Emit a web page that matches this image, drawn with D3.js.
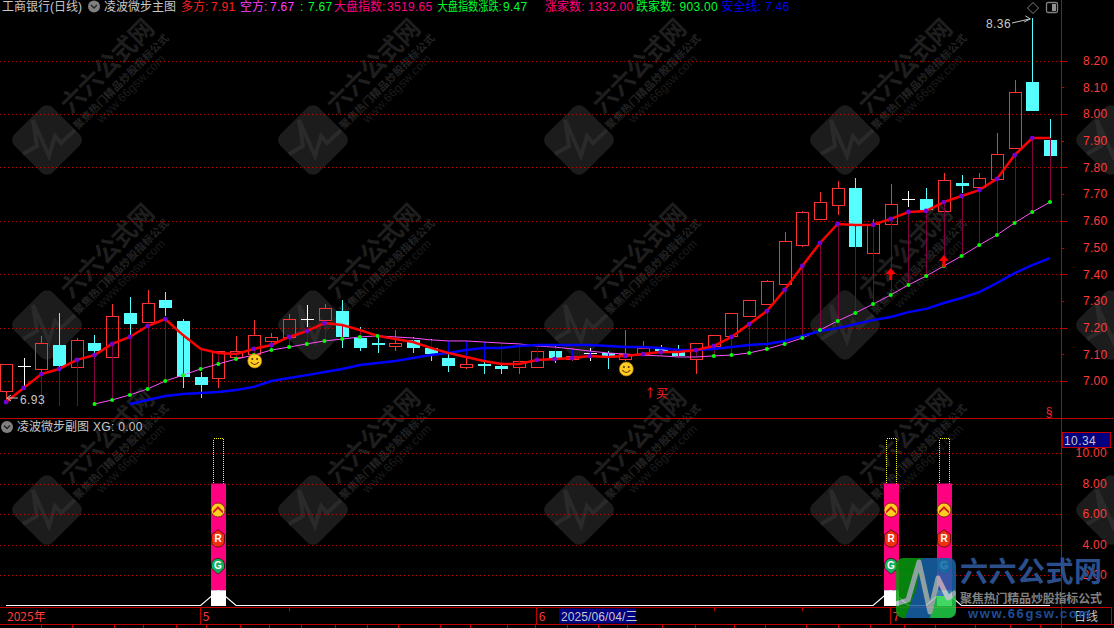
<!DOCTYPE html>
<html><head><meta charset="utf-8">
<style>
html,body{margin:0;padding:0;background:#000;overflow:hidden}
svg{display:block}
text{font-family:"Liberation Sans","Noto Sans CJK SC",sans-serif;font-size:12px}
.cjk{font-family:"Noto Sans CJK SC",sans-serif}
</style>
<script src="https://cdn.jsdelivr.net/npm/d3@7/dist/d3.min.js"></script>
</head><body>
<svg id="c" width="1114" height="628"></svg>
<script>
const opens=[6.963,7.056,7.045,7.135,7.052,7.142,7.090,7.255,7.221,7.303,
7.225,7.015,7.011,7.090,7.101,7.150,7.165,7.232,7.228,7.262,
7.161,7.142,7.131,7.154,7.124,7.086,7.052,7.064,7.056,7.052,
7.052,7.112,7.082,7.105,7.105,7.082,7.101,7.124,7.112,7.082,
7.131,7.169,7.243,7.288,7.363,7.509,7.607,7.659,7.723,7.479,
7.588,7.682,7.682,7.637,7.742,7.727,7.757,7.873,8.120,7.903];
const closes=[7.064,7.056,7.142,7.056,7.154,7.112,7.243,7.213,7.292,7.273,
7.015,6.985,7.112,7.112,7.172,7.165,7.232,7.232,7.273,7.165,
7.124,7.135,7.142,7.124,7.101,7.056,7.064,7.056,7.045,7.075,
7.112,7.086,7.094,7.105,7.094,7.101,7.124,7.112,7.094,7.142,
7.172,7.255,7.303,7.375,7.524,7.633,7.670,7.723,7.502,7.588,
7.663,7.682,7.640,7.753,7.730,7.760,7.850,8.082,8.011,7.843];
const highs=[7.064,7.086,7.169,7.255,7.161,7.172,7.288,7.315,7.341,7.333,
7.232,7.034,7.112,7.169,7.228,7.180,7.251,7.285,7.288,7.303,
7.202,7.169,7.191,7.165,7.157,7.150,7.150,7.146,7.142,7.139,
7.135,7.135,7.124,7.124,7.112,7.191,7.150,7.135,7.135,7.142,
7.172,7.255,7.303,7.378,7.558,7.637,7.708,7.749,7.760,7.607,
7.738,7.712,7.723,7.779,7.771,7.779,7.929,8.127,8.36,7.981];
const lows=[6.93,6.974,7.022,7.049,7.045,7.097,7.090,7.172,7.221,7.243,
6.974,6.936,6.974,7.090,7.101,7.135,7.165,7.202,7.228,7.124,
7.112,7.105,7.112,7.105,7.075,7.034,7.045,7.026,7.026,7.026,
7.049,7.067,7.075,7.075,7.045,7.075,7.094,7.097,7.094,7.026,
7.120,7.169,7.243,7.288,7.363,7.502,7.607,7.622,7.502,7.479,
7.588,7.652,7.640,7.637,7.704,7.727,7.757,7.873,8.011,7.843];
const duoFang=[6.921,6.974,7.026,7.045,7.079,7.097,7.139,7.165,7.206,7.232,
7.172,7.120,7.105,7.101,7.120,7.135,7.165,7.187,7.217,7.210,
7.191,7.169,7.157,7.146,7.124,7.105,7.090,7.075,7.064,7.064,
7.079,7.082,7.086,7.094,7.090,7.094,7.101,7.109,7.109,7.116,
7.131,7.165,7.213,7.262,7.341,7.431,7.517,7.588,7.584,7.585,
7.607,7.633,7.637,7.670,7.693,7.715,7.757,7.846,7.91,7.91];
const kongFang=[null,null,null,null,null,6.914,6.929,6.948,6.970,7.000,
7.022,7.045,7.064,7.082,7.097,7.116,7.127,7.139,7.150,7.157,
7.165,7.169,7.165,7.161,7.154,7.150,7.150,7.146,7.142,7.139,
7.131,7.127,7.120,7.112,7.105,7.101,7.097,7.094,7.090,7.090,
7.094,7.097,7.105,7.120,7.139,7.161,7.191,7.225,7.255,7.288,
7.322,7.360,7.393,7.431,7.468,7.509,7.547,7.592,7.633,7.67];
const anQuan=[null,null,null,null,null,null,null,6.914,6.929,6.944,
6.951,6.955,6.959,6.966,6.978,7.000,7.011,7.022,7.034,7.045,
7.060,7.067,7.075,7.086,7.097,7.105,7.116,7.124,7.124,7.131,
7.135,7.135,7.135,7.135,7.131,7.127,7.127,7.124,7.116,7.116,
7.120,7.127,7.135,7.139,7.150,7.169,7.187,7.198,7.213,7.228,
7.240,7.258,7.270,7.292,7.311,7.333,7.367,7.404,7.434,7.46];
const stickFloor=6.907;
const priceTicks=[7.0,7.1,7.2,7.3,7.4,7.5,7.6,7.7,7.8,7.9,8.0,8.1,8.2];
const priceGrid=[7.0,7.2,7.4,7.6,7.8,8.0,8.2];
const xgBarIdx=[12,50,53];
const xgLineVals=d3.range(60).map(i=>xgBarIdx.includes(i)?1:0);
const subTicks=[2,4,6,8,10];
const barWhiteTop=1, barPinkTop=8, barDotTop=11;
const iconLevels=[6.26,4.45,2.6];
const arrowIdx=[50,53], arrowVals=[7.423,7.472];
const smileIdx=[14,35], smileVals=[7.075,7.045];
const monthLabels=["2025年","5","6","7"], monthIdx=[0,11,30,50];
const minorDateIdx=[16,40,45];
const bottomTabTicks=[41,72,114,143,176,206,240,269,301,335,367,398,440,470,507,535,567,598,627,662,695,734,765,806,838,870,904,935,975,1010,1040];
const headerItems=[
 ["多方:",181,"7.91",211,"#ff2020",0],
 ["空方:",240,"7.67",270,"#ff40ff",0],
 [":",300,"7.67",308,"#00ff30",0],
 ["大盘指数:",334,"3519.65",387,"#ff0080",0],
 ["大盘指数涨跌:",437.5,"9.47",503,"#00ff30",64],
 ["涨家数:",545,"1332.00",588,"#ff0080",0],
 ["跌家数:",636,"903.00",679.5,"#00ff30",0],
 ["安全线:",721.5,"7.46",765,"#0000ff",0]];
const wmX=[47,313,579,845,1111], wmY=[140,325,510];

const W=1114,H=628,frame="#c00000";
const svg=d3.select("#c");
svg.append("rect").attr("width",W).attr("height",H).attr("fill","#000");
const x=d3.scalePoint().domain(d3.range(60)).range([6,1050]);
const y=d3.scaleLinear().domain([7,8]).range([381,114]);
const y2=d3.scaleLinear().domain([0,10]).range([605.5,453]);

// watermarks
const wm=svg.append("g");
d3.cross(wmX,wmY).forEach(([cx,cy])=>{
  const g=wm.append("g").attr("transform",`translate(${cx},${cy})`);
  g.append("rect").attr("x",-27).attr("y",-27).attr("width",54).attr("height",54).attr("rx",8)
   .attr("transform","rotate(45)").attr("fill","#1c1c1c");
  g.append("path").attr("d","M-24,14L-10,6L-14,-20L2,16L8,-4L14,3L28,-10").attr("fill","none").attr("stroke","#2a2a2a").attr("stroke-width",4);
  if(cx+35>W) return;
  const t=g.append("g").attr("transform","rotate(-45)");
  t.append("text").attr("class","cjk").attr("x",35).attr("y",-1).attr("textLength",120).attr("lengthAdjust","spacingAndGlyphs")
   .style("font-size","25px").style("font-weight",700).attr("fill","#1e1e1e").text("六六公式网");
  t.append("text").attr("class","cjk").attr("x",29).attr("y",15).attr("textLength",129)
   .style("font-size","10.5px").style("font-weight",700).attr("fill","#232323").text("聚焦热门精品炒股指标公式");
  t.append("text").attr("x",50).attr("y",27).attr("textLength",91).attr("fill","#1c1c1c").text("www.66gsw.com");
});

// grid
const grid=svg.append("g").attr("stroke","#c80000").attr("stroke-dasharray","1 3").attr("shape-rendering","crispEdges");
grid.selectAll(".a").data(priceGrid).join("line").attr("class","a").attr("x1",0).attr("x2",1061)
 .attr("y1",d=>Math.round(y(d))+.5).attr("y2",d=>Math.round(y(d))+.5);
grid.selectAll(".b").data(subTicks).join("line").attr("class","b").attr("x1",0).attr("x2",1061)
 .attr("y1",d=>Math.round(y2(d))+.5).attr("y2",d=>Math.round(y2(d))+.5);

// candles
const idx=d3.range(60);
const RED="#ff3232",CY="#55ffff";
const cg=svg.append("g").attr("shape-rendering","crispEdges");
idx.forEach(i=>{
  const o=opens[i],c=closes[i],cx=Math.round(x(i))+.5;
  const col=c>o?RED:c<o?CY:"#ffffff";
  const top=Math.max(o,c),bot=Math.min(o,c);
  cg.append("line").attr("x1",cx).attr("x2",cx).attr("y1",y(highs[i])).attr("y2",y(top)).attr("stroke",col);
  cg.append("line").attr("x1",cx).attr("x2",cx).attr("y1",y(bot)).attr("y2",y(lows[i])).attr("stroke",col);
  if(c>o) cg.append("rect").attr("x",cx-6).attr("width",12).attr("y",Math.round(y(top))+.5).attr("height",Math.round(y(bot)-y(top))).attr("fill","none").attr("stroke",col);
  else if(c<o) cg.append("rect").attr("x",cx-6.5).attr("width",13).attr("y",y(top)).attr("height",Math.max(2,y(bot)-y(top))).attr("fill",col);
  else cg.append("line").attr("x1",cx-6.5).attr("x2",cx+6.5).attr("y1",Math.round(y(o))+.5).attr("y2",Math.round(y(o))+.5).attr("stroke",col);
});

// sticks between the two indicator lines
const sg=svg.append("g").attr("shape-rendering","crispEdges");
idx.filter(i=>i>=2).forEach(i=>{
  const base=kongFang[i]==null?stickFloor:kongFang[i];
  if(duoFang[i]===base) return;
  const cx=Math.round(x(i))+.5;
  sg.append("line").attr("x1",cx).attr("x2",cx).attr("y1",y(duoFang[i])).attr("y2",y(base))
    .attr("stroke",duoFang[i]>base?"#800040":"#0000ff");
});

// lines
const lineOf=a=>d3.line().defined(i=>a[i]!=null).x(i=>x(i)).y(i=>y(a[i]))(idx);
svg.append("path").attr("d",lineOf(kongFang)).attr("fill","none").attr("stroke","#ff50ff").attr("stroke-width",1);
svg.append("path").attr("d",lineOf(anQuan)).attr("fill","none").attr("stroke","#0000ff").attr("stroke-width",2.5);
svg.append("path").attr("d",lineOf(duoFang)).attr("fill","none").attr("stroke","#ff0000").attr("stroke-width",2.5);
// markers only where the line rises
svg.append("g").selectAll("circle").data(idx.filter(i=>kongFang[i]!=null&&(kongFang[i-1]==null||kongFang[i]>kongFang[i-1]))).join("circle")
 .attr("cx",i=>x(i)).attr("cy",i=>y(kongFang[i])).attr("r",2).attr("fill","#00ff00");
svg.append("g").selectAll("circle").data(idx.filter(i=>i===0||duoFang[i]>duoFang[i-1])).join("circle")
 .attr("cx",i=>x(i)).attr("cy",i=>y(duoFang[i])).attr("r",2.4).attr("fill","#7000d8");

// arrows, smileys, texts in main pane
arrowIdx.forEach((i,k)=>{
  const g=svg.append("g").attr("transform",`translate(${x(i)},${y(arrowVals[k])})`);
  g.append("path").attr("d","M0,0L5,6H1.5V12H-1.5V6H-5Z").attr("fill","#ff0000");
});
smileIdx.forEach((i,k)=>{
  const g=svg.append("g").attr("transform",`translate(${x(i)+1},${y(smileVals[k])})`);
  g.append("circle").attr("r",7).attr("fill","#ffcc22").attr("stroke","#b08010").attr("stroke-width",.6);
  g.append("circle").attr("cx",-2.4).attr("cy",-2).attr("r",1).attr("fill","#503000");
  g.append("circle").attr("cx",2.4).attr("cy",-2).attr("r",1).attr("fill","#503000");
  g.append("path").attr("d","M-4,1Q0,6 4,1").attr("fill","none").attr("stroke","#503000").attr("stroke-width",1.1);
});
const GREY="#c8c8c8";
svg.append("text").attr("x",20).attr("y",404).attr("fill",GREY).style("letter-spacing",".4px").text(d3.format(".2f")(lows[0]));
svg.append("path").attr("d","M18,398H8M11,395L7,398L11,401").attr("fill","none").attr("stroke",GREY);
svg.append("text").attr("x",986).attr("y",28).attr("fill",GREY).style("letter-spacing",".4px").text(d3.format(".2f")(highs[58]));
svg.append("path").attr("d",`M1012,23L${x(58)-2},${y(highs[58])+1}M${x(58)-7},${y(highs[58])-2}L${x(58)-2},${y(highs[58])+1}L${x(58)-8},${y(highs[58])+4}`).attr("fill","none").attr("stroke",GREY);
svg.append("text").attr("class","cjk").attr("x",644).attr("y",398).attr("fill","#ff2020").text("↑买");
svg.append("text").attr("x",1049).attr("y",416).attr("text-anchor","middle").attr("fill","#ff2020").text("§");

// frame
const fr=svg.append("g").attr("stroke",frame).attr("shape-rendering","crispEdges");
fr.append("line").attr("x1",0).attr("x2",W).attr("y1",418.5).attr("y2",418.5).attr("stroke-width",1.5);
fr.append("line").attr("x1",1061.5).attr("x2",1061.5).attr("y1",0).attr("y2",H).attr("stroke-width",1.5);
fr.append("line").attr("x1",0).attr("x2",1111).attr("y1",607.5).attr("y2",607.5).attr("stroke-width",1.5);
fr.append("line").attr("x1",0).attr("x2",W).attr("y1",624.5).attr("y2",624.5).attr("stroke-width",1.5);
fr.append("line").attr("x1",1111.5).attr("x2",1111.5).attr("y1",607).attr("y2",625);

// price axis
const ay=d3.axisRight(y).tickValues(priceTicks).tickFormat(d3.format(".2f")).tickSize(3).tickPadding(19);
const ag=svg.append("g").attr("transform","translate(1061,0)").call(ay);
ag.select(".domain").remove();
ag.selectAll(".tick line").attr("stroke",frame).attr("shape-rendering","crispEdges")
  .attr("x2",d=>priceGrid.includes(d)?6:3);
ag.selectAll(".tick text").attr("fill","#ff3a3a").style("font-size","12px").style("letter-spacing",".3px").style("font-family",'"Liberation Sans"');

// sub pane axis
const ay2=d3.axisRight(y2).tickValues(subTicks).tickFormat(d3.format(".2f")).tickSize(0).tickPadding(21);
const ag2=svg.append("g").attr("transform","translate(1061,0)").call(ay2);
ag2.select(".domain").remove();
ag2.selectAll(".tick text").attr("fill","#ff3a3a").style("font-size","12px").style("letter-spacing",".3px").style("font-family",'"Liberation Sans"')
  .attr("text-anchor","end").attr("x",46);

// 10.34 box
svg.append("rect").attr("x",1062.5).attr("y",432.5).attr("width",48).attr("height",15).attr("fill","#000080").attr("stroke",frame);
svg.append("text").attr("x",1064).attr("y",444.5).attr("fill",GREY).style("letter-spacing",".4px").text("10.34");

// XG line + bars
svg.append("path").attr("d",d3.line().x(i=>x(i)).y(i=>y2(xgLineVals[i]))(idx)).attr("fill","none").attr("stroke","#fff").attr("stroke-width",1.2);
function icon(g,k,cy){
  const t=g.append("g").attr("transform",`translate(0,${cy})`);
  if(k===0){
    t.append("circle").attr("r",7).attr("fill","#ffcc22").attr("stroke","#702000").attr("stroke-width",.8);
    t.append("path").attr("d","M-5,1L0,-4L5,1L5,3.5L0,-1L-5,3.5Z").attr("fill","#d02020");
  }else{
    const c=k===1?"#f03010":"#10b060";
    const d=k===1?"M0,-8L6.5,-3L6.5,3.5A6.5,6 0 0 1 -6.5,3.5L-6.5,-3Z":"M0,8.5L-6.5,2.5L-6.5,-1A6.5,6.5 0 0 1 6.5,-1L6.5,2.5Z";
    t.append("path").attr("d",d).attr("fill",c).attr("stroke","#300").attr("stroke-width",.7);
    t.append("text").attr("y",k===1?4.5:3.5).attr("text-anchor","middle").attr("fill","#fff").style("font-size","10px").style("font-weight",700).text(k===1?"R":"G");
  }
}
xgBarIdx.forEach(i=>{
  const g=svg.append("g").attr("transform",`translate(${Math.round(x(i))},0)`);
  g.append("rect").attr("x",-4.5).attr("width",10).attr("y",Math.round(y2(barDotTop))+.5).attr("height",Math.round(y2(barPinkTop)-y2(barDotTop)))
   .attr("fill","none").attr("stroke","#ffff00").attr("stroke-dasharray","1 1").attr("shape-rendering","crispEdges");
  g.append("rect").attr("x",-7).attr("width",15).attr("y",y2(barPinkTop)).attr("height",y2(barWhiteTop)-y2(barPinkTop)).attr("fill","#ff0080");
  g.append("rect").attr("x",-7).attr("width",15).attr("y",y2(barWhiteTop)).attr("height",y2(0)-y2(barWhiteTop)+.5).attr("fill","#fff");
  iconLevels.forEach((v,k)=>icon(g,k,y2(v)));
});

// x axis row
monthLabels.forEach((t,k)=>{
  const px=x(monthIdx[k]);
  svg.append("text").attr("class","cjk").attr("x",k===0?7:px+2).attr("y",620.5).attr("fill","#ff3a3a").text(t);
  if(k>0) svg.append("line").attr("x1",Math.round(px)-.5).attr("x2",Math.round(px)-.5).attr("y1",608).attr("y2",624).attr("stroke",frame).attr("shape-rendering","crispEdges");
});
minorDateIdx.forEach(i=>svg.append("line").attr("x1",Math.round(x(i))+.5).attr("x2",Math.round(x(i))+.5).attr("y1",608).attr("y2",611).attr("stroke",frame).attr("shape-rendering","crispEdges"));
bottomTabTicks.forEach(p=>svg.append("line").attr("x1",p+.5).attr("x2",p+.5).attr("y1",625).attr("y2",H).attr("stroke",frame).attr("shape-rendering","crispEdges"));
svg.append("rect").attr("x",559).attr("y",608.5).attr("width",77).attr("height",15).attr("fill","#000080");
svg.append("text").attr("x",561).attr("y",620.5).attr("fill",GREY).style("letter-spacing",".1px").text("2025/06/04/三");
svg.append("text").attr("class","cjk").attr("x",1074).attr("y",620.5).attr("fill",GREY).text("日线");

// header
function chev(cx,cy){
  svg.append("circle").attr("cx",cx).attr("cy",cy).attr("r",6).attr("fill","#808080");
  svg.append("path").attr("d",`M${cx-3},${cy-1.5}L${cx},${cy+1.5}L${cx+3},${cy-1.5}`).attr("fill","none").attr("stroke","#222").attr("stroke-width",1.4);
}
svg.append("text").attr("x",2).attr("y",10.5).attr("fill",GREY).text("工商银行(日线)");
chev(94,6.5);
svg.append("text").attr("x",104).attr("y",10.5).attr("fill",GREY).text("凌波微步主图");
headerItems.forEach(([l,lx,v,vx,c,len])=>{
  const t=svg.append("text").attr("x",lx).attr("y",10.5).attr("fill",c).text(l);
  if(len) t.attr("textLength",len).attr("lengthAdjust","spacingAndGlyphs");
  svg.append("text").attr("x",vx).attr("y",10.5).attr("fill",c).style("letter-spacing",".3px").text(v);
});
svg.append("path").attr("d","M1033,2.5L1038.5,8L1033,13.5L1027.5,8Z").attr("fill","none").attr("stroke","#808080");
svg.append("rect").attr("x",1046.5).attr("y",2.5).attr("width",11).attr("height",10).attr("rx",1.5).attr("fill","none").attr("stroke","#808080").attr("stroke-width",1.3);
svg.append("rect").attr("x",1052).attr("y",4).attr("width",4).attr("height",7).attr("fill","#909090");

chev(7,427);
svg.append("text").attr("x",17).attr("y",431).attr("fill",GREY).text("凌波微步副图");
svg.append("text").attr("x",93).attr("y",431).attr("fill",GREY).style("letter-spacing",".3px").text("XG: 0.00");

// corner logo overlay
const lg=svg.append("g");
const clip=svg.append("defs").append("clipPath").attr("id","lc");
clip.append("rect").attr("x",896).attr("y",558).attr("width",60).attr("height",60).attr("rx",7);
const lc=lg.append("g").attr("clip-path","url(#lc)").attr("opacity",.85);
lc.append("rect").attr("x",896).attr("y",558).attr("width",60).attr("height",60).attr("fill","#1763ab");
lc.append("path").attr("d","M896,558H922L916,590L905,618H896Z").attr("fill","#069a10");
lc.append("path").attr("d","M936,596L956,596V618H930Z").attr("fill","#22d048");
lc.append("path").attr("d","M896,604L908,600L919,562L930,612L938,578L948,598L956,592").attr("fill","none").attr("stroke","#a9bcc0").attr("stroke-width",5).attr("stroke-linejoin","round");
svg.append("text").attr("class","cjk").attr("x",960).attr("y",582).attr("textLength",142).style("font-size","28px").style("font-weight",700).attr("fill","#2a4f8c").text("六六公式网");
svg.append("text").attr("class","cjk").attr("x",960).attr("y",603).attr("textLength",142).style("font-size","12px").style("font-weight",700).attr("fill","#808080").text("聚焦热门精品炒股指标公式");
svg.append("text").attr("x",968).attr("y",618).attr("textLength",122).style("font-size","13px").style("font-weight",700).attr("fill","#1f4c96").text("www.66gsw.com");
</script>
</body></html>
